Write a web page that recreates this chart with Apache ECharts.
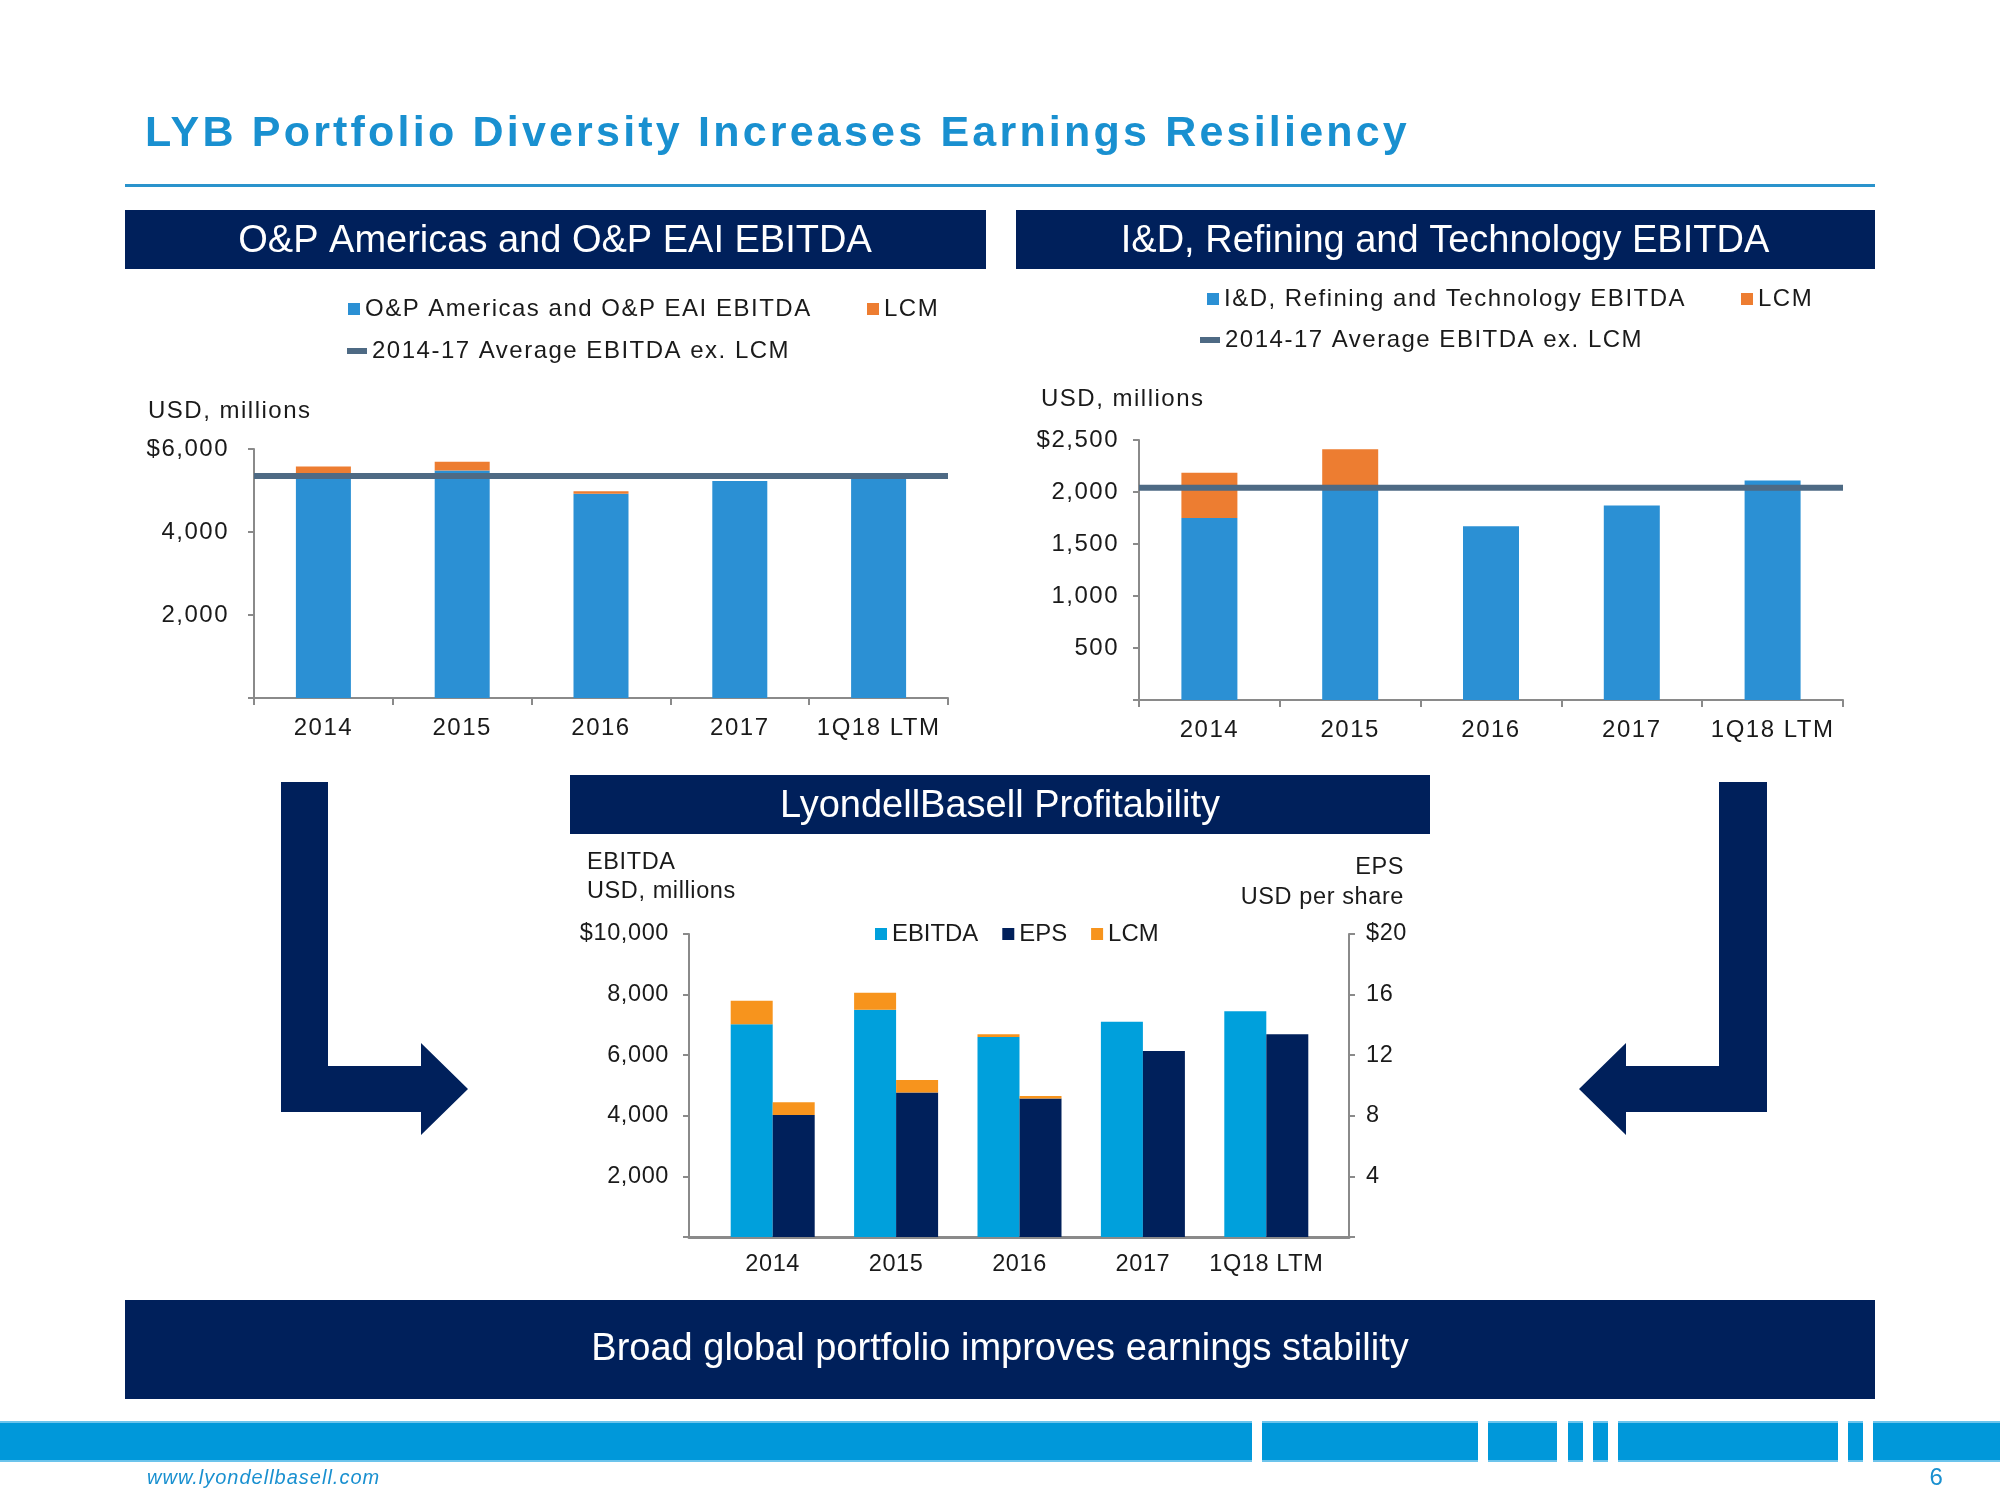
<!DOCTYPE html>
<html><head><meta charset="utf-8">
<script src="https://cdn.jsdelivr.net/npm/echarts@6/dist/echarts.min.js"></script>
<style>html,body{margin:0;padding:0;background:#fff}#c{width:2000px;height:1500px}</style>
</head><body><div id="c"></div>
<script>
// ---------- data ----------
const categories = ['2014', '2015', '2016', '2017', '1Q18 LTM'];

// O&P Americas and O&P EAI EBITDA (USD millions)
const opEbitda = [5380, 5480, 4920, 5230, 5370];
const opLcm = [200, 210, 60, 0, 0];
const opAvg = 5350;
const opYTickLabels = ['', '2,000', '4,000', '$6,000'];

// I&D, Refining and Technology EBITDA (USD millions)
const idEbitda = [1750, 2055, 1670, 1870, 2110];
const idLcm = [435, 355, 0, 0, 0];
const idAvg = 2040;
const idYTickLabels = ['', '500', '1,000', '1,500', '2,000', '$2,500'];

// LyondellBasell profitability
const lybEbitda = [7020, 7500, 6600, 7100, 7450];
const lybEbitdaLcm = [780, 560, 90, 0, 0];
const lybEps = [8.05, 9.54, 9.14, 12.28, 13.38];
const lybEpsLcm = [0.85, 0.83, 0.16, 0, 0];
const lybLeftTickLabels = ['', '2,000', '4,000', '6,000', '8,000', '$10,000'];
const lybRightTickLabels = ['', '4', '8', '12', '16', '$20'];

// ---------- letter spacing by font size (the slide uses spaced-out type) ----------
const SPACING = { '43': 3.2, '24': 1.5, '23.5': 0.6, '20': 1 };
(function () {
  const proto = CanvasRenderingContext2D.prototype;
  if (!('letterSpacing' in proto)) return;
  const orig = proto.fillText;
  proto.fillText = function (t, x, y, w) {
    const m = /(\d+(?:\.\d+)?)px/.exec(this.font);
    const ls = m ? (SPACING[m[1]] || 0) : 0;
    const prev = this.letterSpacing;
    this.letterSpacing = ls + 'px';
    const r = (w === undefined) ? orig.call(this, t, x, y) : orig.call(this, t, x, y, w);
    this.letterSpacing = prev;
    return r;
  };
})();

// ---------- style ----------
const FONT = "'Liberation Sans', Arial, sans-serif";
const NAVY = '#00205b';
const TXT = '#1a1a1a';
const AXIS = '#8a8a8a';
const TOP_BLUE = '#2b90d4';
const TOP_ORANGE = '#ed7d31';
const AVG = '#4e6a84';
const BOT_BLUE = '#00a0dc';
const BOT_ORANGE = '#f7941d';
const LIGHT = '#1990d0';

const chart = echarts.init(document.getElementById('c'));

function valAxis(grid, max, interval, labels, margin, size, pos) {
  return {
    type: 'value', gridIndex: grid, min: 0, max: max, interval: interval,
    position: pos || 'left',
    axisLine: { show: true, onZero: false, lineStyle: { color: AXIS, width: 2 } },
    axisTick: { show: true, length: 6, lineStyle: { color: AXIS, width: 2 } },
    splitLine: { show: false },
    axisLabel: { color: TXT, fontSize: size, fontFamily: FONT, margin: margin,
      formatter: function (v, i) { return labels[i]; } }
  };
}
function catAxis(grid, ticks, margin, line, size) {
  return {
    type: 'category', gridIndex: grid, data: categories,
    axisLine: { show: line, onZero: false, lineStyle: { color: AXIS, width: 2 } },
    axisTick: { show: ticks, interval: 0, length: 7, lineStyle: { color: AXIS, width: 2 } },
    axisLabel: { color: TXT, fontSize: size, fontFamily: FONT, margin: margin, interval: 0 }
  };
}
function hiddenX(grid) {
  return { type: 'value', gridIndex: grid, min: 0, max: 1, show: false };
}
function txt(x, y, s, size, color, opts) {
  opts = opts || {};
  return {
    type: 'text', x: x, y: y, silent: true, z: 10,
    style: {
      text: s, fill: color, align: opts.align || 'left', verticalAlign: 'middle',
      font: (opts.italic ? 'italic ' : '') + (opts.bold ? 'bold ' : '') + size + 'px ' + FONT
    }
  };
}
function rect(x, y, w, h, color) {
  return { type: 'rect', silent: true, z: 1, shape: { x: x, y: y, width: w, height: h }, style: { fill: color } };
}

// footer stripe segments (decoration)
const stripeSegs = [[0, 1252], [1262, 1478], [1488, 1557], [1568, 1583], [1593, 1608], [1618, 1838], [1848, 1863], [1873, 2000]];
const stripe = [];
stripeSegs.forEach(function (s) {
  stripe.push(rect(s[0], 1421, s[1] - s[0], 41, '#0098da'));
  stripe.push(rect(s[0], 1421, s[1] - s[0], 2, '#6cc4ec'));
  stripe.push(rect(s[0], 1460, s[1] - s[0], 2, '#6cc4ec'));
});

const graphics = [
  txt(145, 134, 'LYB Portfolio Diversity Increases Earnings Resiliency', 43, LIGHT, { bold: true }),
  rect(125, 184, 1750, 3, '#2a93cc'),
  rect(125, 210, 861, 59, NAVY),
  txt(555, 242, 'O&P Americas and O&P EAI EBITDA', 38, '#ffffff', { align: 'center' }),
  rect(1016, 210, 859, 59, NAVY),
  txt(1445, 242, 'I&D, Refining and Technology EBITDA', 38, '#ffffff', { align: 'center' }),
  txt(148, 411, 'USD, millions', 24, TXT),
  txt(1041, 399, 'USD, millions', 24, TXT),
  rect(570, 775, 860, 59, NAVY),
  txt(1000, 807, 'LyondellBasell Profitability', 38, '#ffffff', { align: 'center' }),
  txt(587, 863, 'EBITDA', 23.5, TXT),
  txt(587, 892, 'USD, millions', 23.5, TXT),
  txt(1404, 868, 'EPS', 23.5, TXT, { align: 'right' }),
  txt(1404, 898, 'USD per share', 23.5, TXT, { align: 'right' }),
  { type: 'polygon', silent: true, z: 1,
    shape: { points: [[281, 782], [328, 782], [328, 1066], [421, 1066], [421, 1043], [468, 1089], [421, 1135], [421, 1112], [281, 1112]] },
    style: { fill: NAVY } },
  { type: 'polygon', silent: true, z: 1,
    shape: { points: [[1767, 782], [1719, 782], [1719, 1066], [1626, 1066], [1626, 1043], [1579, 1089], [1626, 1135], [1626, 1112], [1767, 1112]] },
    style: { fill: NAVY } },
  rect(125, 1300, 1750, 99, NAVY),
  txt(1000, 1350, 'Broad global portfolio improves earnings stability', 38, '#ffffff', { align: 'center' }),
  txt(147, 1478, 'www.lyondellbasell.com', 20, LIGHT, { italic: true }),
  txt(1937, 1478, '6', 24, LIGHT, { align: 'center' })
].concat(stripe);

function lg(left, top, data, w, h, gap, size) {
  return { left: left, top: top, data: data, itemWidth: w || 12, itemHeight: h || 12,
    itemGap: gap || 10, textStyle: { color: TXT, fontSize: size || 24, fontFamily: FONT },
    selectedMode: false, padding: 0 };
}

const option = {
  backgroundColor: '#ffffff',
  animation: false,
  textStyle: { fontFamily: FONT },
  graphic: graphics,
  legend: [
    lg(348, 297, [{ name: 'O&P Americas and O&P EAI EBITDA', icon: 'rect', itemStyle: { color: TOP_BLUE } }]),
    lg(867, 297, [{ name: 'LCM', icon: 'rect', itemStyle: { color: TOP_ORANGE } }]),
    lg(347, 339, [{ name: '2014-17 Average EBITDA ex. LCM', icon: 'rect', itemStyle: { color: AVG } }], 20, 6),
    lg(1207, 287, [{ name: 'I&D, Refining and Technology EBITDA', icon: 'rect', itemStyle: { color: TOP_BLUE } }]),
    lg(1741, 287, [{ name: 'LCM', icon: 'rect', itemStyle: { color: TOP_ORANGE } }]),
    lg(1200, 328, [{ name: '2014-17 Average EBITDA ex. LCM', icon: 'rect', itemStyle: { color: AVG } }], 20, 6),
    lg(875, 922, [
      { name: 'EBITDA', icon: 'rect', itemStyle: { color: BOT_BLUE } },
      { name: 'EPS', icon: 'rect', itemStyle: { color: NAVY } },
      { name: 'LCM', icon: 'rect', itemStyle: { color: BOT_ORANGE } }
    ], 12, 12, 24, 23.9)
  ],
  grid: [
    { left: 254, top: 449, width: 694, height: 249 },
    { left: 1139, top: 440, width: 704, height: 260 },
    { left: 689, top: 934, width: 660, height: 303 },
    { left: 711, top: 934, width: 617, height: 303 }
  ],
  xAxis: [
    catAxis(0, true, 18, true, 24),
    hiddenX(0),
    catAxis(1, true, 18, true, 24),
    hiddenX(1),
    { type: 'value', gridIndex: 2, min: 0, max: 1, axisLine: { show: true, onZero: false, lineStyle: { color: AXIS, width: 3 } },
      axisTick: { show: false }, axisLabel: { show: false }, splitLine: { show: false } },
    catAxis(3, false, 16, false, 23.5)
  ],
  yAxis: [
    valAxis(0, 6000, 2000, opYTickLabels, 25, 24),
    valAxis(1, 2500, 500, idYTickLabels, 20, 24),
    valAxis(2, 10000, 2000, lybLeftTickLabels, 20, 23.5),
    valAxis(2, 20, 4, lybRightTickLabels, 17, 23.5, 'right'),
    { type: 'value', gridIndex: 3, min: 0, max: 10000, show: false },
    { type: 'value', gridIndex: 3, min: 0, max: 20, show: false, position: 'right' }
  ],
  series: [
    { type: 'bar', name: 'O&P Americas and O&P EAI EBITDA', xAxisIndex: 0, yAxisIndex: 0, stack: 'op',
      barWidth: 55, data: opEbitda, itemStyle: { color: TOP_BLUE } },
    { type: 'bar', name: 'LCM', xAxisIndex: 0, yAxisIndex: 0, stack: 'op',
      barWidth: 55, data: opLcm, itemStyle: { color: TOP_ORANGE } },
    { type: 'line', name: '2014-17 Average EBITDA ex. LCM', xAxisIndex: 1, yAxisIndex: 0, z: 5,
      showSymbol: false, data: [[0, opAvg], [1, opAvg]], lineStyle: { color: AVG, width: 6 }, itemStyle: { color: AVG } },

    { type: 'bar', name: 'I&D, Refining and Technology EBITDA', xAxisIndex: 2, yAxisIndex: 1, stack: 'id',
      barWidth: 56, data: idEbitda, itemStyle: { color: TOP_BLUE } },
    { type: 'bar', name: 'LCM', xAxisIndex: 2, yAxisIndex: 1, stack: 'id',
      barWidth: 56, data: idLcm, itemStyle: { color: TOP_ORANGE } },
    { type: 'line', name: '2014-17 Average EBITDA ex. LCM', xAxisIndex: 3, yAxisIndex: 1, z: 5,
      showSymbol: false, data: [[0, idAvg], [1, idAvg]], lineStyle: { color: AVG, width: 6 }, itemStyle: { color: AVG } },

    { type: 'bar', name: 'EBITDA', xAxisIndex: 5, yAxisIndex: 4, stack: 'e', barWidth: 42, barGap: '0%',
      data: lybEbitda, itemStyle: { color: BOT_BLUE } },
    { type: 'bar', name: 'LCM', xAxisIndex: 5, yAxisIndex: 4, stack: 'e', barWidth: 42, barGap: '0%',
      data: lybEbitdaLcm, itemStyle: { color: BOT_ORANGE } },
    { type: 'bar', name: 'EPS', xAxisIndex: 5, yAxisIndex: 5, stack: 'p', barWidth: 42, barGap: '0%',
      data: lybEps, itemStyle: { color: NAVY } },
    { type: 'bar', name: 'LCM', xAxisIndex: 5, yAxisIndex: 5, stack: 'p', barWidth: 42, barGap: '0%',
      data: lybEpsLcm, itemStyle: { color: BOT_ORANGE } }
  ]
};
chart.setOption(option);
</script>
</body></html>
